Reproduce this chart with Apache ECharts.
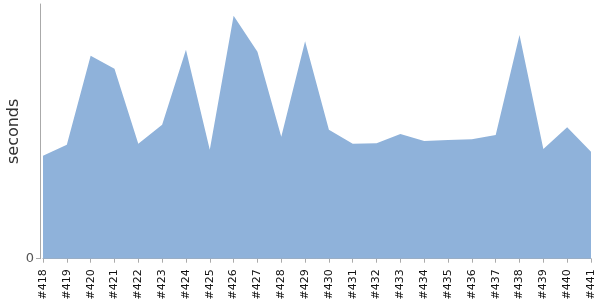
<!DOCTYPE html>
<html>
<head>
<meta charset="utf-8">
<script src="https://cdn.jsdelivr.net/npm/echarts@6/dist/echarts.min.js"></script>
<style>html,body{margin:0;padding:0;background:#fff}#c{width:600px;height:300px}</style>
</head>
<body>
<div id="c"></div>
<script>
var categories = ['#418','#419','#420','#421','#422','#423','#424','#425','#426','#427','#428','#429','#430','#431','#432','#433','#434','#435','#436','#437','#438','#439','#440','#441'];
var seconds = [103, 114, 203, 190, 115, 134, 209, 109, 243, 207, 122, 217.5, 129, 115, 115.4, 124.7, 117.7, 118.7, 119.4, 123.7, 223.7, 109.7, 131.4, 107];
var yTicks = [0];

var chart = echarts.init(document.getElementById('c'), null, {renderer: 'canvas'});
chart.setOption({
  animation: false,
  grid: {left: 43, right: 9, top: 4, bottom: 41.3, containLabel: false, outerBoundsMode: 'none'},
  xAxis: {
    type: 'category',
    data: categories,
    boundaryGap: false,
    offset: 4.6,
    axisLine: {lineStyle: {color: '#aaaaaa', width: 1}},
    axisTick: {show: true, length: 4, lineStyle: {color: '#aaaaaa'}},
    axisLabel: {rotate: 90, interval: 0, margin: 6, color: '#111', fontSize: 11, fontFamily: 'DejaVu Sans'},
    splitLine: {show: false}
  },
  yAxis: {
    type: 'value',
    min: 0,
    max: 254.7,
    offset: 3,
    name: 'seconds',
    nameLocation: 'middle',
    nameGap: 18,
    nameMoveOverlap: false,
    nameTextStyle: {color: '#333', fontSize: 16, fontFamily: 'DejaVu Sans'},
    axisLine: {show: true, lineStyle: {color: '#aaaaaa', width: 1}},
    axisTick: {show: true, length: 4, customValues: yTicks, lineStyle: {color: '#aaaaaa'}},
    axisLabel: {customValues: yTicks, color: '#555', fontSize: 13, margin: 6, fontFamily: 'DejaVu Sans'},
    splitLine: {show: false}
  },
  series: [{
    type: 'line',
    data: seconds,
    symbol: 'none',
    smooth: false,
    lineStyle: {width: 0, color: '#8fb2da'},
    areaStyle: {color: '#8fb2da', opacity: 1}
  }]
});
</script>
</body>
</html>
